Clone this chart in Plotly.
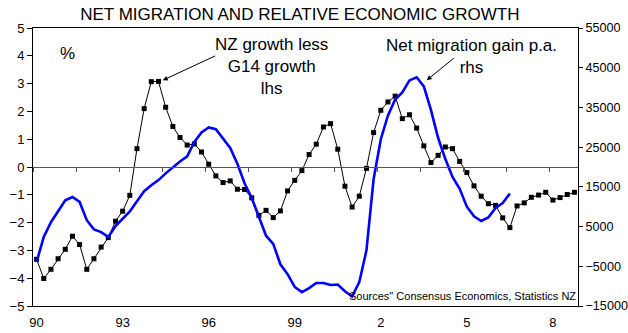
import plotly.graph_objects as go

# Quarterly categories 1990Q1 .. 2008Q4
years = list(range(1990, 2009))
quarters = [f"{y}Q{q}" for y in years for q in range(1, 5)]
year_labels = ["90", "93", "96", "99", "2", "5", "8"]
label_years = [1990, 1993, 1996, 1999, 2002, 2005, 2008]

# NZ growth less G14 growth (lhs, %)
nz_less_g14 = [-3.32, -4.01, -3.68, -3.30, -2.96, -2.49, -2.79, -3.68, -3.30, -2.88,
               -2.54, -1.95, -1.59, -1.02, 0.66, 2.10, 3.07, 3.08, 2.15, 1.46,
               1.06, 0.79, 0.83, 0.54, 0.10, -0.32, -0.56, -0.50, -0.80, -0.81,
               -1.11, -1.74, -1.56, -1.82, -1.58, -0.86, -0.48, -0.13, 0.45, 0.82,
               1.44, 1.56, 0.64, -0.69, -1.44, -1.05, -0.05, 1.24, 2.04, 2.34,
               2.55, 1.74, 1.88, 1.40, 0.76, 0.16, 0.42, 0.72, 0.66, 0.20,
               -0.20, -0.68, -1.05, -1.32, -1.38, -1.83, -2.18, -1.40, -1.29, -1.09,
               -1.01, -0.91, -1.19, -1.10, -0.99, -0.91]

# Net migration gain p.a. (rhs)
net_migration = [-3900, 2400, 6100, 8700, 11600, 12450, 11200, 6600, 4300, 3600,
                 2400, 5100, 7000, 8800, 11400, 13900, 15400, 16700, 18400, 20000,
                 21400, 22700, 26300, 28700, 29950, 29500, 27200, 24800, 20800, 15900,
                 12200, 7500, 2700, 650, -4500, -7000, -10200, -11500, -10500, -9200,
                 -9200, -9700, -9600, -11300, -12600, -9000, -1000, 17000, 27000, 33000,
                 37000, 38800, 41800, 42600, 40300, 34300, 27300, 22000, 17500, 14500,
                 10000, 7600, 6400, 7300, 9700, 10900, 13300]

FONT = "Liberation Sans, Arial, sans-serif"
n = len(quarters)
xb = list(range(len(nz_less_g14)))
xm = list(range(len(net_migration)))

fig = go.Figure()
fig.add_trace(go.Scatter(
    x=xb, y=nz_less_g14, mode="lines+markers", yaxis="y", xaxis="x",
    line=dict(color="black", width=1),
    marker=dict(symbol="square", size=5, color="black"),
    hovertext=quarters[:len(xb)], showlegend=False))
fig.add_trace(go.Scatter(
    x=xm, y=net_migration, mode="lines", yaxis="y2", xaxis="x",
    line=dict(color="#0000FF", width=2.6),
    hovertext=quarters[:len(xm)], showlegend=False))
# empty trace to activate the zero-crossing axis
fig.add_trace(go.Scatter(x=[], y=[], xaxis="x2", yaxis="y", showlegend=False))

tickvals = [quarters.index(f"{y}Q1") for y in label_years]
boundary_ticks = [k - 0.5 for k in range(0, n, 6)]

fig.update_layout(
    width=628, height=333,
    margin=dict(l=33, r=50, t=28, b=27, autoexpand=False),
    paper_bgcolor="white", plot_bgcolor="white",
    font=dict(family=FONT, color="black", size=13),
    title=dict(text="NET MIGRATION AND RELATIVE ECONOMIC GROWTH",
               x=307.5 / 628, xanchor="center", xref="paper",
               y=1 - 14 / 333, yanchor="middle", yref="container",
               font=dict(family=FONT, size=17, color="black")),
    xaxis=dict(range=[-0.5, n - 0.5], tickvals=tickvals, ticktext=year_labels,
               showline=True, mirror=True, linecolor="black", linewidth=1,
               showgrid=False, zeroline=False, ticks="", ticklabelstandoff=4,
               tickfont=dict(size=13), automargin=False),
    xaxis2=dict(range=[-0.5, n - 0.5], overlaying="x", anchor="free", position=0.5,
                tickvals=boundary_ticks, ticks="outside", ticklen=4, tickcolor="#555",
                showline=True, linecolor="#555", linewidth=1,
                showticklabels=False, showgrid=False, zeroline=False, automargin=False),
    yaxis=dict(range=[-5, 5], dtick=1, ticks="outside", ticklen=5, tickcolor="black",
               showline=True, linecolor="black", linewidth=1,
               showgrid=False, zeroline=False, tickfont=dict(size=13), automargin=False),
    yaxis2=dict(range=[-15000, 55000], overlaying="y", side="right", anchor="x",
                tickvals=list(range(-15000, 55001, 10000)), tickformat="d",
                ticks="outside", ticklen=4, tickcolor="black",
                showline=True, linecolor="black", linewidth=1,
                showgrid=False, zeroline=False, tickfont=dict(size=12.6), automargin=False),
    annotations=[
        dict(text="%", x=4.3, y=4.09, xref="x", yref="y", showarrow=False,
             font=dict(size=17)),
        dict(text="NZ growth less<br>G14 growth<br>lhs", x=32.7, y=3.62,
             xref="x", yref="y", showarrow=False, font=dict(size=17),
             yanchor="middle"),
        dict(text="Net migration gain p.a.<br>rhs", x=60.6, y=3.97,
             xref="x", yref="y", showarrow=False, font=dict(size=17),
             yanchor="middle"),
        dict(text="", x=17.6, y=3.12, ax=25.1, ay=4.02, xref="x", yref="y",
             axref="x", ayref="y", showarrow=True, arrowhead=2, arrowsize=1,
             arrowwidth=1, arrowcolor="black"),
        dict(text="", x=54.4, y=3.12, ax=58.4, ay=3.96, xref="x", yref="y",
             axref="x", ayref="y", showarrow=True, arrowhead=2, arrowsize=1,
             arrowwidth=1, arrowcolor="black"),
        dict(text='Sources" Consensus Economics, Statistics NZ', x=1, y=-4.65,
             xref="paper", yref="y", xanchor="right", yanchor="middle",
             showarrow=False, font=dict(size=11)),
    ],
)

fig.write_html("out.html")
